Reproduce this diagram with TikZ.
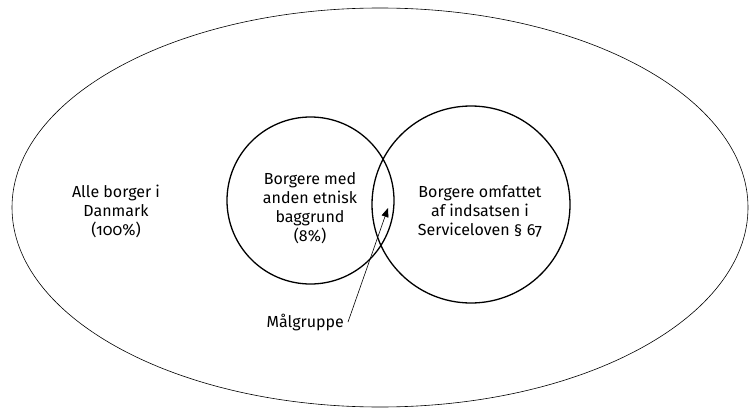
\documentclass[tikz,border=0pt]{standalone}
\usepackage{fontspec}
\setmainfont{Fira Sans}[Numbers=OldStyle]
\usepackage{tikz}
\usetikzlibrary{arrows.meta,shapes.geometric}

\begin{document}
\begin{tikzpicture}[
  x=1pt, y=-1pt,
  every node/.style={font=\fontsize{16}{19}\selectfont},
  set/.style={draw, ellipse, inner sep=0pt, line width=1.3pt},
  whole/.style={draw, ellipse, inner sep=0pt, line width=0.6pt},
  setLabel/.style={align=center, inner sep=0pt},
  pointer/.style={-{Triangle[length=9pt,width=7pt]}, line width=0.6pt}
]
\useasboundingbox (0,0) rectangle (749,409);
\node[whole, minimum width=736pt, minimum height=399pt] (danmark) at (380,207.5) {};
\node[set, minimum width=167pt, minimum height=167pt] (etnisk) at (310.5,200.5) {};
\node[set, minimum width=198pt, minimum height=197pt] (service) at (471,204.5) {};

\node[setLabel] (alle) at (116,211.5) {Alle borger i\\Danmark\\(100\%)};
\node[setLabel] (etniskTxt) at (310,208) {Borgere med\\anden etnisk\\baggrund\\(8\%)};
\node[setLabel] (serviceTxt) at (480,211.5) {Borgere omfattet\\af indsatsen i\\Serviceloven § 67};

\node[anchor=base east, inner xsep=4pt, inner ysep=0pt] (maal) at (348,327) {Målgruppe};
\coordinate (overlap) at (388,208);
\draw[pointer] (maal.east) -- (overlap);
\end{tikzpicture}
\end{document}
